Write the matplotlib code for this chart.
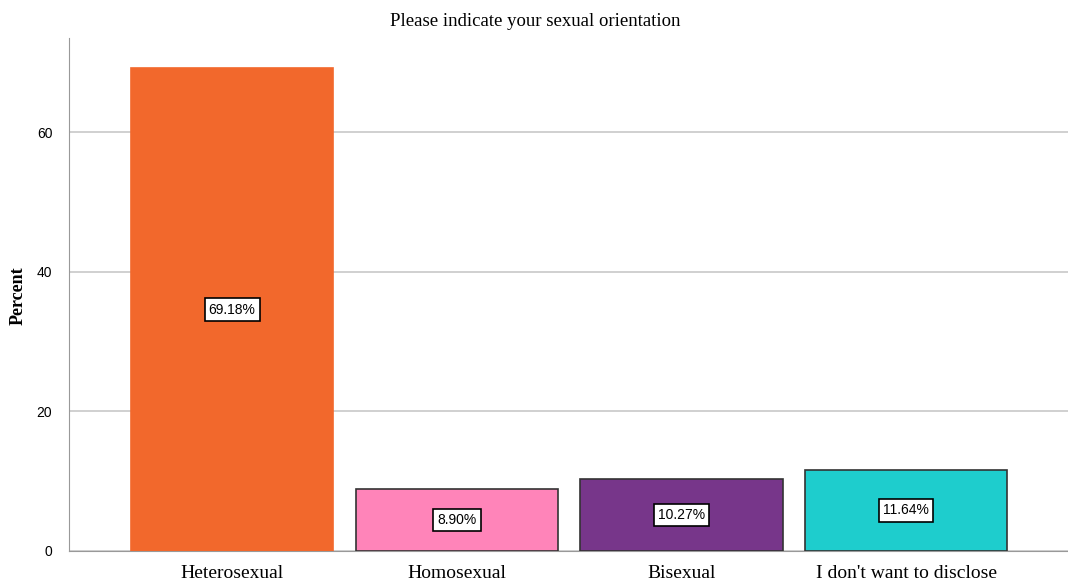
import matplotlib.pyplot as plt

# data
categories = ['Heterosexual', 'Homosexual', 'Bisexual', "I don't want to disclose"]
percent = [69.18, 8.90, 10.27, 11.64]
colors = ['#F2682C', '#FF84B9', '#77368A', '#1ECDCD']
edges = ['#F2682C', '#333333', '#333333', '#333333']

fig = plt.figure(figsize=(10.68, 5.83), dpi=100)
ax = fig.add_axes([69 / 1068, 32 / 583, 999 / 1068, 513 / 583])

x = range(len(categories))
ax.bar(x, percent, width=0.9, color=colors, edgecolor=edges, linewidth=1.2, zorder=3)

for i, v in enumerate(percent):
    ax.text(i, v / 2, '%.2f%%' % v, ha='center', va='center', fontsize=10,
            family='Liberation Sans', zorder=4,
            bbox=dict(boxstyle='square,pad=0.3', fc='white', ec='black', lw=1.2))

ax.set_xlim(-0.726, 3.72)
ax.set_ylim(0, 73.5)
ax.set_yticks([0, 20, 40, 60])
ax.yaxis.grid(True, color='#c8c8c8', lw=1.2, zorder=0)
ax.tick_params(axis='both', length=0)
ax.tick_params(axis='y', pad=12)
ax.tick_params(axis='x', pad=10)
for lab in ax.get_yticklabels():
    lab.set_family('Liberation Sans')
    lab.set_fontsize(10)
ax.set_xticks(list(x))
ax.set_xticklabels(categories, family='Liberation Serif', fontsize=14)

ax.spines['top'].set_visible(False)
ax.spines['right'].set_visible(False)
ax.spines['left'].set_color('#999999')
ax.spines['bottom'].set_color('#999999')

fig.text(18 / 1068, 1 - 296 / 583, 'Percent', rotation=90, ha='center', va='center',
         family='Liberation Serif', fontsize=13, fontweight='bold')
fig.text(535 / 1068, 1 - 22 / 583, 'Please indicate your sexual orientation',
         ha='center', va='center', family='Liberation Serif', fontsize=13.5)

fig.savefig('out.png', dpi=100)
